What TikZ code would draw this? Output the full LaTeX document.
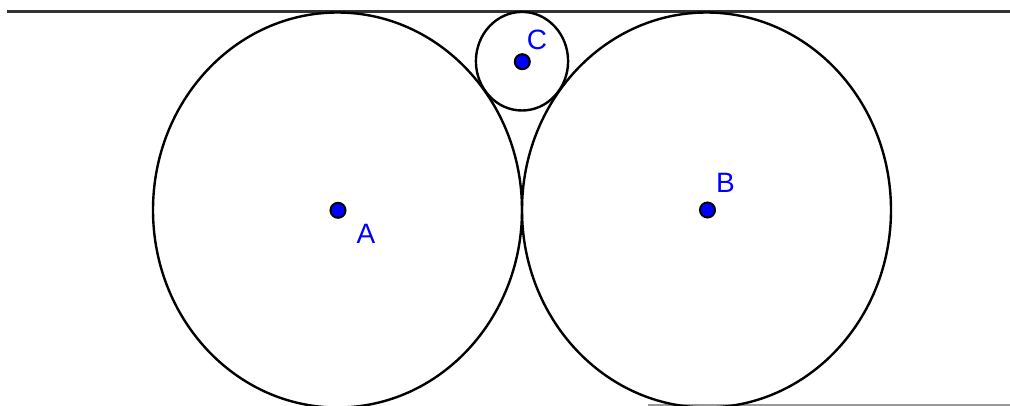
\documentclass[tikz,border=0pt]{standalone}
\usepackage{fontspec}
\setmainfont{Liberation Sans}
\begin{document}
\begin{tikzpicture}[x=1pt,y=-1pt,
  circ/.style={draw=black,line width=2.4pt},
  dot/.style={circle,fill=blue,draw=black,line width=2pt,inner sep=0pt,minimum size=15pt},
  lbl/.style={text=blue,font=\fontsize{28}{32}\selectfont,inner sep=0pt,anchor=center},
  topline/.style={draw=black!80,line width=3pt}]
\useasboundingbox (0,0) rectangle (1010,405);
\fill[white] (0,0) rectangle (1010,405);
% top tangent line
\coordinate (L1) at (7,11);
\coordinate (L2) at (1010,11);
\draw[topline] (L1) -- (L2);
% faint bottom line
\coordinate (M1) at (648,405.2);
\coordinate (M2) at (1010,405.2);
\draw[black!40,line width=1.6pt] (M1) -- (M2);
% circles
\coordinate (cA) at (337.5,210);
\coordinate (cB) at (706.5,210);
\coordinate (cC) at (522,61.2);
\draw[circ] (cA) ellipse [x radius=184.5, y radius=197.5];
\draw[circ] (cB) ellipse [x radius=184.5, y radius=197.5];
\draw[circ] (cC) ellipse [x radius=46.1, y radius=49.3];
% points
\node[dot] (A) at (338,210.3) {};
\node[dot] (B) at (707.5,210) {};
\node[dot] (C) at (522.3,61.7) {};
\node[lbl] (lA) at (366,233.5) {A};
\node[lbl] (lB) at (725.5,183) {B};
\node[lbl] (lC) at (537,39.5) {C};
\end{tikzpicture}
\end{document}
